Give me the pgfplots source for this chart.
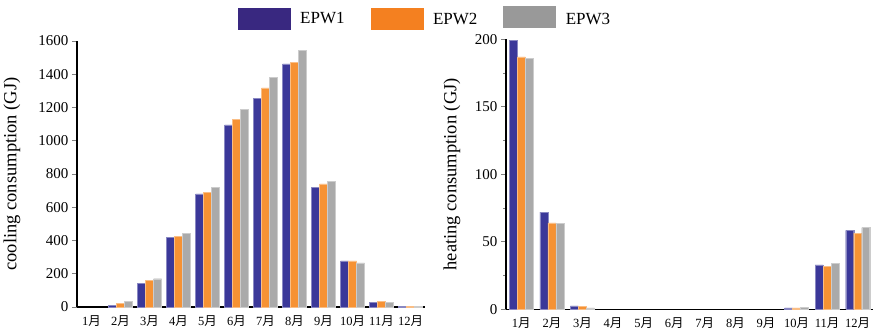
\documentclass[border=0pt]{standalone}
\usepackage{fontspec}
\setmainfont{Liberation Serif}
\newfontfamily\cjk{Noto Sans CJK SC}
\usepackage{pgfplots}
\pgfplotsset{compat=1.18}
\definecolor{cA}{RGB}{59,56,153}
\definecolor{cB}{RGB}{246,146,52}
\definecolor{cC}{RGB}{170,170,170}
\definecolor{lA}{RGB}{57,40,128}
\definecolor{lB}{RGB}{244,128,32}
\definecolor{lC}{RGB}{153,153,153}
\pgfplotsset{
  common/.style={
    scale only axis,
    anchor=south west,
    ybar=0pt,
    bar width=8pt,
    xmin=0.5, xmax=12.5,
    ymin=0,
    axis lines*=left,
    axis line style={line width=1.3pt},
    xtick={1,...,12},
    xticklabels={1{\cjk 月},2{\cjk 月},3{\cjk 月},4{\cjk 月},5{\cjk 月},6{\cjk 月},7{\cjk 月},8{\cjk 月},9{\cjk 月},10{\cjk 月},11{\cjk 月},12{\cjk 月}},
    x tick label style={font=\fontsize{12.5}{14}\selectfont, inner xsep=0pt},
    xtick style={draw=none},
    y tick label style={font=\fontsize{15}{17}\selectfont},
    ytick style={line width=1pt},
    tick align=outside,
    major tick length=5pt,
    minor tick length=3pt,
    /pgf/number format/assume math mode=true,
    /pgf/number format/1000 sep={},
    ylabel style={font=\fontsize{18.5}{20}\selectfont, anchor=center},
  },
}
\begin{document}
\begin{tikzpicture}[x=1pt,y=1pt]
\useasboundingbox (0,0) rectangle (875,335);
\begin{axis}[common,
  at={(77pt,28pt)}, width=348pt, height=266pt,
  ymax=1600, ytick={0,200,...,1600},
  ylabel={cooling consumption (GJ)},
  ylabel style={at={(axis description cs:-0.187,0.5)}},
  legend columns=3,
  legend style={at={(1.0,1.086)}, anchor=center, draw=none, fill=none,
    font=\fontsize{17}{19}\selectfont,
    /tikz/every odd column/.append style={column sep=8pt},
    /tikz/every even column/.append style={column sep=24pt}},
]
\addplot[fill=cA, draw=cA!60!white, line width=0.4pt,
  legend image code/.code={\fill[lA] (0pt,-10.5pt) rectangle (52pt,10.5pt);}]
  coordinates {(2,12) (3,144) (4,420) (5,681) (6,1096) (7,1256) (8,1462) (9,719) (10,278) (11,28) (12,3)};
\addplot[fill=cB, draw=cB!60!white, line width=0.4pt,
  legend image code/.code={\fill[lB] (0pt,-10.5pt) rectangle (52pt,10.5pt);}]
  coordinates {(2,22) (3,162) (4,426) (5,691) (6,1130) (7,1318) (8,1472) (9,741) (10,278) (11,34) (12,2)};
\addplot[fill=cC, draw=cC!60!white, line width=0.4pt,
  legend image code/.code={\fill[lC] (0pt,-8.5pt) rectangle (52pt,12.5pt);}]
  coordinates {(2,36) (3,170) (4,442) (5,721) (6,1188) (7,1382) (8,1542) (9,755) (10,266) (11,28) (12,2)};
\legend{EPW1,EPW2,EPW3}
\end{axis}
\begin{axis}[common,
  at={(506pt,25.7pt)}, width=367pt, height=270pt,
  ymax=200, ytick={0,50,...,200}, minor y tick num=1,
  ylabel={heating consumption (GJ)},
  ylabel style={at={(axis description cs:-0.147,0.5)}},
]
\addplot[fill=cA, draw=cA!60!white, line width=0.4pt]
  coordinates {(1,199) (2,72) (3,2.5) (10,1) (11,33) (12,58.5)};
\addplot[fill=cB, draw=cB!60!white, line width=0.4pt]
  coordinates {(1,187) (2,64) (3,2.2) (10,1) (11,32) (12,56.5)};
\addplot[fill=cC, draw=cC!60!white, line width=0.4pt]
  coordinates {(1,186) (2,63.7) (3,1) (10,1.5) (11,34) (12,60.5)};
\end{axis}
\end{tikzpicture}
\end{document}
